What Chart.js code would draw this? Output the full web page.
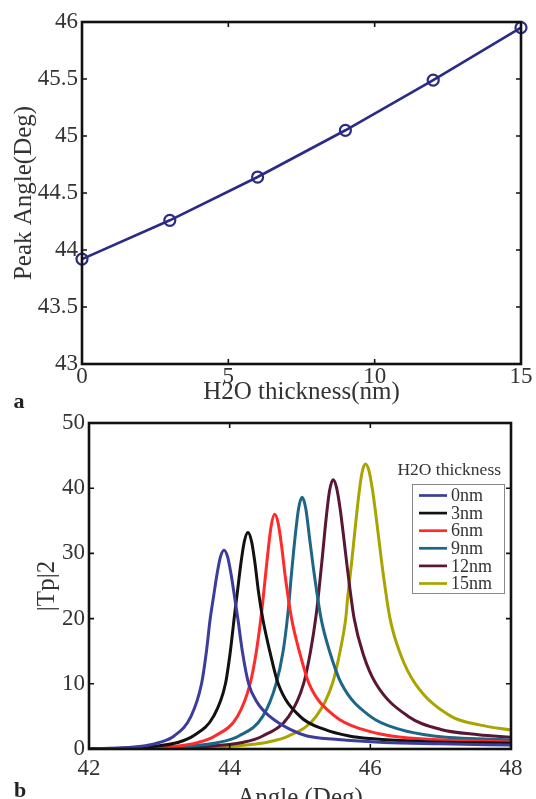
<!DOCTYPE html>
<html>
<head>
<meta charset="utf-8">
<script src="https://cdn.jsdelivr.net/npm/chart.js@4/dist/chart.umd.min.js"></script>
<style>
  html, body { margin: 0; padding: 0; background: #fff; overflow: hidden; }
  #wrap { position: relative; width: 536px; height: 799px; overflow: hidden; }
  canvas { position: absolute; left: 0; }
  #chartA { top: 0; }
  #chartB { top: 412px; }
</style>
</head>
<body>
<div id="wrap">
  <canvas id="chartA" width="536" height="412"></canvas>
  <canvas id="chartB" width="536" height="420"></canvas>
</div>
<script>
// panel a : peak angle vs water layer thickness
let thickness = [0, 3, 6, 9, 12, 15];
let peakAngle = [43.92, 44.26, 44.64, 45.05, 45.49, 45.95];
let tickA_x = [0, 5, 10, 15];
let tickA_y = [43, 43.5, 44, 44.5, 45, 45.5, 46];

// panel b : |Tp|2 vs angle, one curve per thickness
let curveLabels = ['0nm', '3nm', '6nm', '9nm', '12nm', '15nm'];
let curveColors = ['#3c3c9c', '#111111', '#ff2b2b', '#1d6688', '#5b1634', '#a9a400'];

let angle0 = [42, 42.5, 42.8, 43.0, 43.21, 43.45, 43.6, 43.67, 43.72, 43.77, 43.82, 43.87, 43.92, 43.97, 44.02, 44.07, 44.12, 44.18, 44.27, 44.4, 44.57, 44.86, 45.1, 45.5, 46.2, 47, 48];
let tp0    = [0.05, 0.2, 0.5, 1.0, 2, 5, 10, 15, 19.7, 23.3, 26.8, 29.5, 30.5, 29.5, 26.8, 23.3, 19.7, 15, 10, 7, 5, 3, 2, 1.5, 1.0, 0.8, 0.6];

let angle3 = [42, 42.6, 43.0, 43.26, 43.48, 43.77, 43.94, 44.01, 44.07, 44.11, 44.16, 44.21, 44.26, 44.31, 44.36, 44.41, 44.47, 44.57, 44.69, 45.0, 45.35, 45.7, 46.0, 46.8, 48];
let tp3    = [0.05, 0.2, 0.5, 1, 2, 5, 10, 15, 20.6, 24.1, 28.5, 31.9, 33.2, 31.9, 28.5, 24.1, 20, 15, 10, 5, 3, 2, 1.6, 1.1, 0.9];

let angle6 = [42, 42.9, 43.3, 43.55, 43.79, 44.11, 44.29, 44.38, 44.45, 44.49, 44.54, 44.59, 44.64, 44.69, 44.74, 44.79, 44.88, 44.99, 45.13, 45.5, 45.89, 46.3, 47.0, 48];
let tp6    = [0.05, 0.2, 0.5, 1, 2, 5, 10, 15, 20.6, 24.6, 29.8, 34.2, 36, 34.6, 31, 26.5, 20, 15, 10, 5, 3, 2, 1.4, 1.1];

let angle9 = [42, 43.0, 43.5, 43.84, 44.13, 44.47, 44.66, 44.76, 44.83, 44.88, 44.93, 44.98, 45.03, 45.08, 45.14, 45.2, 45.3, 45.42, 45.59, 46.0, 46.42, 46.9, 48];
let tp9    = [0.02, 0.2, 0.5, 1, 2, 5, 10, 15, 21, 27, 32.5, 36.9, 38.6, 37, 32, 27, 20, 15, 10, 5, 3, 2, 1.4];

let angle12 = [42, 43.3, 43.8, 44.18, 44.47, 44.84, 45.05, 45.15, 45.23, 45.27, 45.32, 45.37, 45.42, 45.47, 45.52, 45.57, 45.62, 45.67, 45.77, 45.9, 46.08, 46.54, 47.0, 47.54, 48];
let tp12    = [0.02, 0.2, 0.5, 1, 2, 5, 10, 15, 20.6, 24.4, 29.7, 35.2, 39.6, 41.3, 40.1, 36.9, 32.6, 28, 20, 14.5, 10, 5, 3, 2.2, 1.8];

let angle15 = [42, 43.5, 44.1, 44.52, 44.84, 45.23, 45.46, 45.57, 45.65, 45.68, 45.73, 45.78, 45.83, 45.88, 45.93, 45.98, 46.03, 46.08, 46.13, 46.18, 46.28, 46.43, 46.64, 47.15, 47.55, 48];
let tp15    = [0.02, 0.2, 0.5, 1, 2, 5, 10, 15, 20, 23.5, 28.2, 33.4, 38.4, 42.3, 43.7, 42.7, 39.8, 35.8, 31.4, 27.1, 20, 14.5, 10, 5, 3.7, 2.9];

let curveAngles = [angle0, angle3, angle6, angle9, angle12, angle15];
let curveValues = [tp0, tp3, tp6, tp9, tp12, tp15];

const serif = '"Liberation Serif", "Times New Roman", serif';
const textColor = '#333';
const tickFont = {family: serif, size: 23};
const titleFont = {family: serif, size: 25};

function toPoints(xs, ys) {
    return xs.map((x, i) => ({x: x, y: ys[i]}));
}

function fixedAxis(size, horizontal) {
    return function(scale) {
        if (horizontal) {
            scale.height = size;
        } else {
            scale.width = size;
        }
        scale.paddingLeft = 0;
        scale.paddingRight = 0;
        scale.paddingTop = 0;
        scale.paddingBottom = 0;
    };
}

// matlab style box with inward ticks on all four sides
const boxFrame = {
    id: 'boxFrame',
    afterDatasetsDraw(chart) {
        const {ctx, chartArea: a, scales} = chart;
        const len = 5;
        ctx.save();
        ctx.strokeStyle = '#111';
        ctx.lineWidth = 1.6;
        ctx.beginPath();
        scales.x.ticks.forEach(t => {
            const px = scales.x.getPixelForValue(t.value);
            ctx.moveTo(px, a.bottom); ctx.lineTo(px, a.bottom - len);
            ctx.moveTo(px, a.top); ctx.lineTo(px, a.top + len);
        });
        scales.y.ticks.forEach(t => {
            const py = scales.y.getPixelForValue(t.value);
            ctx.moveTo(a.left, py); ctx.lineTo(a.left + len, py);
            ctx.moveTo(a.right, py); ctx.lineTo(a.right - len, py);
        });
        ctx.stroke();
        ctx.lineWidth = 2.6;
        ctx.strokeRect(a.left, a.top, a.right - a.left, a.bottom - a.top);
        ctx.restore();
    }
};

function panelLetter(letter, x, y) {
    return {
        id: 'panel_' + letter,
        afterDraw(chart) {
            const ctx = chart.ctx;
            ctx.save();
            ctx.font = 'bold 22px ' + serif;
            ctx.fillStyle = '#222';
            ctx.textAlign = 'center';
            ctx.textBaseline = 'middle';
            ctx.fillText(letter, x, y);
            ctx.restore();
        }
    };
}

const insetLegend = {
    id: 'insetLegend',
    afterDraw(chart) {
        const {ctx, chartArea: a} = chart;
        const bw = 92, bh = 109;
        const bx = a.right - 7 - bw, by = a.top + 61;
        ctx.save();
        ctx.font = '17.5px ' + serif;
        ctx.fillStyle = textColor;
        ctx.textAlign = 'right';
        ctx.textBaseline = 'middle';
        ctx.fillText('H2O thickness', a.right - 10, a.top + 47);
        ctx.fillStyle = '#fff';
        ctx.fillRect(bx, by, bw, bh);
        ctx.strokeStyle = '#888';
        ctx.lineWidth = 1;
        ctx.strokeRect(bx + 0.5, by + 0.5, bw, bh);
        ctx.textAlign = 'left';
        ctx.font = '18px ' + serif;
        chart.data.datasets.forEach((ds, i) => {
            const yy = by + 11.5 + i * 17.6;
            ctx.strokeStyle = ds.borderColor;
            ctx.lineWidth = 2.7;
            ctx.beginPath();
            ctx.moveTo(bx + 7, yy);
            ctx.lineTo(bx + 35, yy);
            ctx.stroke();
            ctx.fillStyle = textColor;
            ctx.fillText(ds.label, bx + 39, yy + 1);
        });
        ctx.restore();
    }
};

const chartA = new Chart(document.getElementById('chartA'), {
    type: 'line',
    data: {
        datasets: [
            {
                label: 'Peak angle',
                data: toPoints(thickness, peakAngle),
                borderColor: '#2b2b86',
                borderWidth: 2.7,
                pointRadius: 5.5,
                pointBorderWidth: 2.2,
                pointBackgroundColor: 'rgba(0,0,0,0)',
                pointBorderColor: '#2b2b86',
                tension: 0,
                clip: false
            }
        ]
    },
    options: {
        responsive: false,
        animation: false,
        layout: {
            padding: {left: 0, right: 15, top: 22, bottom: 0}
        },
        plugins: {
            legend: {display: false},
            tooltip: {enabled: false}
        },
        scales: {
            x: {
                type: 'linear',
                min: 0,
                max: 15,
                afterFit: fixedAxis(48, true),
                afterBuildTicks: (scale) => { scale.ticks = tickA_x.map(v => ({value: v})); },
                grid: {display: false, drawTicks: false},
                border: {display: false},
                ticks: {padding: -1, color: textColor, font: tickFont, callback: (v) => String(v)},
                title: {
                    display: true,
                    text: 'H2O thickness(nm)',
                    color: textColor,
                    font: titleFont,
                    padding: {top: 0, bottom: 5}
                }
            },
            y: {
                min: 43,
                max: 46,
                afterFit: fixedAxis(82, false),
                afterBuildTicks: (scale) => { scale.ticks = tickA_y.map(v => ({value: v})); },
                grid: {display: false, drawTicks: false},
                border: {display: false},
                ticks: {padding: 4, color: textColor, font: tickFont, callback: (v) => String(v)},
                title: {
                    display: true,
                    text: 'Peak Angle(Deg)',
                    color: textColor,
                    font: titleFont,
                    padding: {top: 9, bottom: 0}
                }
            }
        }
    },
    plugins: [boxFrame, panelLetter('a', 19, 402)]
});

const chartB = new Chart(document.getElementById('chartB'), {
    type: 'line',
    data: {
        datasets: curveLabels.map((lab, i) => ({
            label: lab,
            data: toPoints(curveAngles[i], curveValues[i]),
            borderColor: curveColors[i],
            borderWidth: 3,
            pointRadius: 0,
            cubicInterpolationMode: 'monotone'
        }))
    },
    options: {
        responsive: false,
        animation: false,
        layout: {
            padding: {left: 0, right: 25, top: 11, bottom: 0}
        },
        plugins: {
            legend: {display: false},
            tooltip: {enabled: false}
        },
        scales: {
            x: {
                type: 'linear',
                min: 42,
                max: 48,
                afterFit: fixedAxis(83, true),
                ticks: {stepSize: 2, padding: 6, color: textColor, font: tickFont},
                grid: {display: false, drawTicks: false},
                border: {display: false},
                title: {
                    display: true,
                    text: 'Angle (Deg)',
                    color: textColor,
                    font: titleFont,
                    padding: {top: 0, bottom: 19}
                }
            },
            y: {
                min: 0,
                max: 50,
                afterFit: fixedAxis(89, false),
                ticks: {stepSize: 10, padding: 4, color: textColor, font: tickFont},
                grid: {display: false, drawTicks: false},
                border: {display: false},
                title: {
                    display: true,
                    text: '|Tp|2',
                    color: textColor,
                    font: titleFont,
                    padding: {top: 32, bottom: 0}
                }
            }
        }
    },
    plugins: [boxFrame, insetLegend, panelLetter('b', 20, 379)]
});
</script>
</body>
</html>
